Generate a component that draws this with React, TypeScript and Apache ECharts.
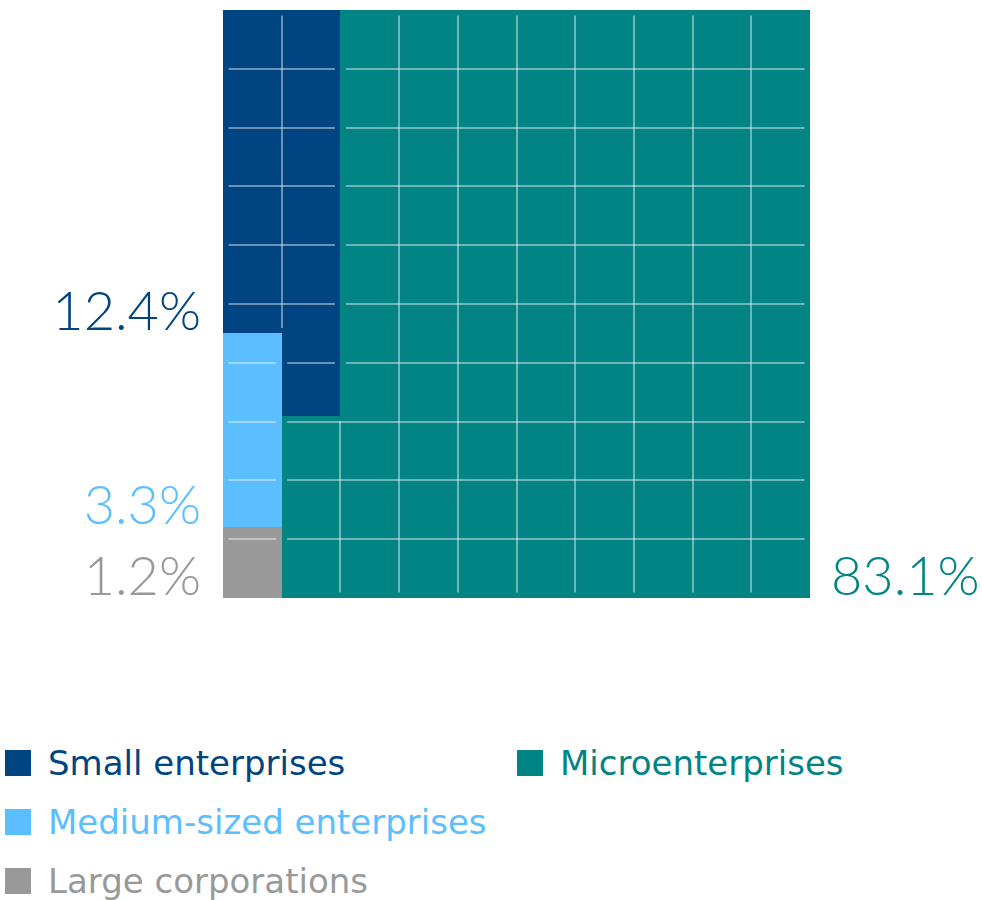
import React, { useEffect, useRef } from 'react';
import * as echarts from 'echarts';

// ---- data ----
const categories = ['Small enterprises', 'Microenterprises', 'Medium-sized enterprises', 'Large corporations'];
const shares = [12.4, 83.1, 3.3, 1.2];
// order in which the waffle is filled (snake: col 0 bottom-up, col 1 top-down, ...)
const fillOrder = ['Large corporations', 'Medium-sized enterprises', 'Small enterprises', 'Microenterprises'];
// legend arrangement: [name, column, row]
const legendLayout: [string, number, number][] = [
  ['Small enterprises', 0, 0],
  ['Microenterprises', 1, 0],
  ['Medium-sized enterprises', 0, 1],
  ['Large corporations', 0, 2],
];
const GRID_COLS = 10;
const GRID_ROWS = 10;

// ---- styles ----
const colors = ['#004481', '#028484', '#5BBEFF', '#999999'];
const LINE_COLOR = 'rgba(255,255,255,0.42)';
const INSET = 5.5;
const LABEL_FONT = '300 54px Lato';

type Seg = { col: number; y0: number; y1: number; cat: number };

function r6(v: number) {
  return Math.round(v * 1e6) / 1e6;
}

function buildSegments(): Seg[] {
  const segs: Seg[] = [];
  let p = 0;
  for (const name of fillOrder) {
    const cat = categories.indexOf(name);
    let remaining = shares[cat];
    while (remaining > 1e-6 && p < GRID_COLS * GRID_ROWS - 1e-6) {
      const col = Math.floor(r6(p / GRID_ROWS));
      const off = r6(p - col * GRID_ROWS);
      const len = r6(Math.min(remaining, GRID_ROWS - off));
      let y0: number, y1: number;
      if (col % 2 === 0) {
        y0 = off;
        y1 = r6(off + len);
      } else {
        y0 = r6(GRID_ROWS - off - len);
        y1 = r6(GRID_ROWS - off);
      }
      segs.push({ col, y0, y1, cat });
      p = r6(p + len);
      remaining = r6(remaining - len);
    }
  }
  return segs;
}

function regionAt(segs: Seg[], col: number, y: number): number {
  const s = segs.find((g) => g.col === col && g.y0 < y && g.y1 > y);
  return s ? s.cat : -1;
}

function buildLines(segs: Seg[]): number[][] {
  const lines: number[][] = [];
  for (let k = 1; k < GRID_ROWS; k++) {
    let runStart = 0;
    let runCat = regionAt(segs, 0, k);
    for (let c = 1; c <= GRID_COLS; c++) {
      const cat = c < GRID_COLS ? regionAt(segs, c, k) : -2;
      if (cat !== runCat) {
        if (runCat >= 0) lines.push([runStart, k, c, k]);
        runStart = c;
        runCat = cat;
      }
    }
  }
  for (let j = 1; j < GRID_COLS; j++) {
    const left = segs.filter((s) => s.col === j - 1);
    const right = segs.filter((s) => s.col === j);
    for (const a of left) {
      for (const b of right) {
        if (a.cat !== b.cat) continue;
        const lo = Math.max(a.y0, b.y0);
        const hi = Math.min(a.y1, b.y1);
        if (hi - lo > 1e-6) lines.push([j, lo, j, hi]);
      }
    }
  }
  return lines;
}

export default function App() {
  const ref = useRef<HTMLDivElement>(null);

  useEffect(() => {
    if (!ref.current) return;
    const chart = echarts.init(ref.current, undefined, { renderer: 'svg' });
    const segs = buildSegments();
    const lines = buildLines(segs);

    const labelSeg: Record<number, { idx: number; side: 'left' | 'right' }> = {};
    categories.forEach((_, ci) => {
      const mine = segs.filter((s) => s.cat === ci);
      const firstCol = mine.findIndex((s) => s.col === 0);
      if (firstCol >= 0) labelSeg[ci] = { idx: firstCol, side: 'left' };
      else labelSeg[ci] = { idx: mine.length - 1, side: 'right' };
    });

    const catSeries = categories.map((name, ci) => ({
      type: 'custom',
      name,
      coordinateSystem: 'cartesian2d',
      silent: true,
      itemStyle: { color: colors[ci] },
      z: 2,
      encode: { x: 0, y: [1, 2] },
      data: segs.filter((s) => s.cat === ci).map((s) => [s.col, s.y0, s.y1]),
      renderItem: (params: any, api: any) => {
        const c = api.value(0);
        const y0 = api.value(1);
        const y1 = api.value(2);
        const tl = api.coord([c, y1]);
        const br = api.coord([c + 1, y0]);
        const x = Math.round(tl[0]);
        const y = Math.round(tl[1]);
        const w = Math.round(br[0]) - x;
        const h = Math.round(br[1]) - y;
        const children: any[] = [
          { type: 'rect', shape: { x, y, width: w, height: h }, style: { fill: colors[ci] } },
        ];
        const ls = labelSeg[ci];
        if (ls && ls.idx === params.dataIndex) {
          const txt = shares[ci].toFixed(1) + '%';
          if (ls.side === 'left') {
            const gx = api.coord([0, 0])[0];
            children.push({
              type: 'text',
              x: gx - 22,
              y: br[1] + 3,
              style: { text: txt, fill: colors[ci], font: LABEL_FONT, align: 'right', verticalAlign: 'bottom' },
            });
          } else {
            const gx = api.coord([GRID_COLS, 0])[0];
            children.push({
              type: 'text',
              x: gx + 21,
              y: br[1] + 3,
              style: { text: txt, fill: colors[ci], font: LABEL_FONT, align: 'left', verticalAlign: 'bottom' },
            });
          }
        }
        return { type: 'group', children };
      },
    }));

    const lineSeries = {
      type: 'custom',
      name: 'gridlines',
      coordinateSystem: 'cartesian2d',
      silent: true,
      z: 5,
      data: lines,
      renderItem: (params: any, api: any) => {
        const a = api.coord([api.value(0), api.value(1)]);
        const b = api.coord([api.value(2), api.value(3)]);
        const horiz = api.value(1) === api.value(3);
        let x1, y1, x2, y2;
        if (horiz) {
          const y = Math.round(a[1]);
          x1 = Math.min(a[0], b[0]) + INSET;
          x2 = Math.max(a[0], b[0]) - INSET;
          y1 = y;
          y2 = y;
        } else {
          const x = Math.round(a[0]);
          y1 = Math.min(a[1], b[1]) + INSET;
          y2 = Math.max(a[1], b[1]) - INSET;
          x1 = x;
          x2 = x;
        }
        return {
          type: 'line',
          shape: { x1, y1, x2, y2 },
          style: { stroke: LINE_COLOR, lineWidth: 2 },
        };
      },
    };

    const legendText = {
      fontSize: 34,
      fontFamily: 'DejaVu Sans',
      fontWeight: 400,
      lineHeight: 30,
      padding: [0, 0, 0, 12],
    };

    const legends = legendLayout.map(([name, col, row]) => ({
      left: col === 0 ? 5 : 517,
      top: 746 + row * 59,
      orient: 'horizontal',
      icon: 'rect',
      itemWidth: 26,
      itemHeight: 26,
      selectedMode: false,
      padding: 0,
      textStyle: legendText,
      data: [{ name, textStyle: { color: colors[categories.indexOf(name)] } }],
    }));

    chart.setOption({
      animation: false,
      backgroundColor: '#ffffff',
      grid: { left: 223, top: 10, width: 587, height: 588 },
      xAxis: { type: 'value', min: 0, max: GRID_COLS, show: false },
      yAxis: { type: 'value', min: 0, max: GRID_ROWS, show: false },
      legend: legends,
      series: [...catSeries, lineSeries],
    });

    return () => chart.dispose();
  }, []);

  return (
    <div
      ref={ref}
      style={{ position: 'absolute', left: 0, top: 0, width: 982, height: 900 }}
    />
  );
}
